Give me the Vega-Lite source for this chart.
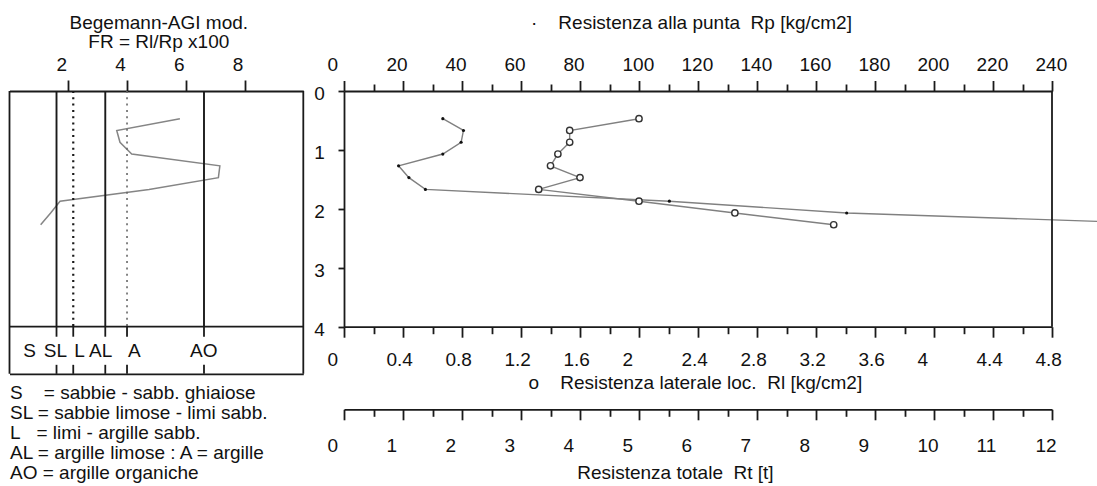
{
  "$schema": "https://vega.github.io/schema/vega-lite/v6.json",
  "background": "white",
  "width": 1097,
  "height": 486,
  "autosize": {"type": "none"},
  "padding": 0,
  "config": {
    "font": "Liberation Sans",
    "view": {"stroke": null},
    "axis": {
      "labelFont": "Liberation Sans", "labelFontSize": 19, "labelColor": "#111",
      "titleFont": "Liberation Sans", "titleFontSize": 19, "titleFontWeight": "normal", "titleColor": "#111",
      "domainColor": "#1a1a1a", "domainWidth": 1.8, "tickColor": "#1a1a1a", "tickWidth": 1.8,
      "grid": false, "labelOverlap": false, "labelBound": false, "labelFlush": false
    }
  },
  "datasets": {
    "rp": [
      {"depth": 0.47, "rp": 33.5}, {"depth": 0.67, "rp": 40.5}, {"depth": 0.87, "rp": 39.7},
      {"depth": 1.07, "rp": 33.5}, {"depth": 1.27, "rp": 18.5}, {"depth": 1.47, "rp": 22},
      {"depth": 1.67, "rp": 27.6}, {"depth": 1.87, "rp": 110.3}, {"depth": 2.07, "rp": 170.4},
      {"depth": 2.27, "rp": 290}
    ],
    "rl": [
      {"depth": 0.47, "rl": 2.0}, {"depth": 0.67, "rl": 1.53}, {"depth": 0.87, "rl": 1.53},
      {"depth": 1.07, "rl": 1.45}, {"depth": 1.27, "rl": 1.4}, {"depth": 1.47, "rl": 1.6},
      {"depth": 1.67, "rl": 1.32}, {"depth": 1.87, "rl": 2.0}, {"depth": 2.07, "rl": 2.65},
      {"depth": 2.27, "rl": 3.32}
    ],
    "fr": [
      {"depth": 0.47, "fr": 5.8}, {"depth": 0.67, "fr": 3.65}, {"depth": 0.87, "fr": 3.76},
      {"depth": 1.07, "fr": 4.16}, {"depth": 1.27, "fr": 7.16}, {"depth": 1.47, "fr": 7.11},
      {"depth": 1.67, "fr": 4.75}, {"depth": 1.87, "fr": 1.72}, {"depth": 2.07, "fr": 1.4},
      {"depth": 2.27, "fr": 1.06}
    ],
    "bounds": [
      {"b": 1.6, "kind": "main"}, {"b": 2.17, "kind": "sub"}, {"b": 3.26, "kind": "main"},
      {"b": 4.0, "kind": "sub"}, {"b": 6.62, "kind": "main"}
    ],
    "classes": [
      {"cls": "S", "pos": 0.68}, {"cls": "SL", "pos": 1.56}, {"cls": "L", "pos": 2.38},
      {"cls": "AL", "pos": 3.1}, {"cls": "A", "pos": 4.25}, {"cls": "AO", "pos": 6.61}
    ],
    "one": [{}]
  },
  "layer": [
    {
      "data": {"name": "fr"},
      "mark": {"type": "line", "color": "#858585", "strokeWidth": 1.5},
      "encoding": {
        "x": {"field": "fr", "type": "quantitative",
          "scale": {"domain": [0, 10], "range": [9.5, 303.3], "nice": false, "zero": false},
          "axis": {"orient": "top", "offset": -91, "values": [2, 4, 6, 8], "tickSize": 11,
            "labelAlign": "center", "labelOffset": -7, "labelBaseline": "alphabetic", "labelPadding": 10,
            "title": ["Begemann-AGI mod.", "FR = Rl/Rp x100\u00a0\u00a0\u00a0\u00a0"],
            "titleX": 158.3, "titleY": -62.7, "titleAlign": "center", "titleBaseline": "alphabetic",
            "titleLineHeight": 19.4}},
        "y": {"field": "depth", "type": "quantitative",
          "scale": {"domain": [0, 4], "range": [91, 326.7], "nice": false, "zero": false}, "axis": null},
        "order": {"field": "depth"}
      }
    },
    {
      "data": {"name": "bounds"},
      "transform": [{"filter": "datum.kind == 'main'"}],
      "mark": {"type": "rule", "color": "#1a1a1a", "strokeWidth": 1.9},
      "encoding": {
        "x": {"field": "b", "type": "quantitative", "scale": {"domain": [0, 10], "range": [9.5, 303.3], "nice": false, "zero": false}, "axis": null},
        "y": {"datum": 0, "type": "quantitative", "scale": {"domain": [0, 4], "range": [91, 326.7], "nice": false, "zero": false}, "axis": null},
        "y2": {"datum": 4}
      }
    },
    {
      "data": {"name": "bounds"},
      "transform": [{"filter": "datum.kind == 'sub' && datum.b < 3"}],
      "mark": {"type": "rule", "color": "#1a1a1a", "strokeWidth": 2.2, "strokeDash": [2, 4.3], "strokeCap": "butt"},
      "encoding": {
        "x": {"field": "b", "type": "quantitative", "scale": {"domain": [0, 10], "range": [9.5, 303.3], "nice": false, "zero": false}, "axis": null},
        "y": {"datum": 0, "type": "quantitative", "scale": {"domain": [0, 4], "range": [91, 326.7], "nice": false, "zero": false}, "axis": null},
        "y2": {"datum": 4}
      }
    },
    {
      "data": {"name": "bounds"},
      "transform": [{"filter": "datum.kind == 'sub' && datum.b > 3"}],
      "mark": {"type": "rule", "color": "#666", "strokeWidth": 1.6, "strokeDash": [2, 4.3], "strokeCap": "butt"},
      "encoding": {
        "x": {"field": "b", "type": "quantitative", "scale": {"domain": [0, 10], "range": [9.5, 303.3], "nice": false, "zero": false}, "axis": null},
        "y": {"datum": 0, "type": "quantitative", "scale": {"domain": [0, 4], "range": [91, 326.7], "nice": false, "zero": false}, "axis": null},
        "y2": {"datum": 4}
      }
    },
    {
      "data": {"name": "bounds"},
      "mark": {"type": "rule", "color": "#1a1a1a", "strokeWidth": 1.8},
      "encoding": {
        "x": {"field": "b", "type": "quantitative", "scale": {"domain": [0, 10], "range": [9.5, 303.3], "nice": false, "zero": false}, "axis": null},
        "y": {"datum": 4, "type": "quantitative", "scale": {"domain": [0, 4], "range": [91, 326.7], "nice": false, "zero": false}, "axis": null},
        "y2": {"datum": 4.17}
      }
    },
    {
      "data": {"name": "bounds"},
      "mark": {"type": "rule", "color": "#1a1a1a", "strokeWidth": 1.8},
      "encoding": {
        "x": {"field": "b", "type": "quantitative", "scale": {"domain": [0, 10], "range": [9.5, 303.3], "nice": false, "zero": false}, "axis": null},
        "y": {"datum": 4.647, "type": "quantitative", "scale": {"domain": [0, 4], "range": [91, 326.7], "nice": false, "zero": false}, "axis": null},
        "y2": {"datum": 4.8}
      }
    },
    {
      "data": {"name": "one"},
      "mark": {"type": "rule", "color": "#1a1a1a", "strokeWidth": 1.8},
      "encoding": {
        "x": {"datum": 0, "type": "quantitative", "scale": {"domain": [0, 10], "range": [9.5, 303.3], "nice": false, "zero": false}, "axis": null},
        "x2": {"datum": 10},
        "y": {"datum": 4, "type": "quantitative", "scale": {"domain": [0, 4], "range": [91, 326.7], "nice": false, "zero": false}, "axis": null}
      }
    },
    {
      "data": {"name": "one"},
      "mark": {"type": "rule", "color": "#1a1a1a", "strokeWidth": 1.8},
      "encoding": {
        "x": {"datum": 0, "type": "quantitative", "scale": {"domain": [0, 10], "range": [9.5, 303.3], "nice": false, "zero": false}, "axis": null},
        "y": {"datum": 0, "type": "quantitative", "scale": {"domain": [0, 4], "range": [91, 326.7], "nice": false, "zero": false}, "axis": null},
        "y2": {"datum": 4.8}
      }
    },
    {
      "data": {"name": "one"},
      "mark": {"type": "rule", "color": "#1a1a1a", "strokeWidth": 1.8},
      "encoding": {
        "x": {"datum": 10, "type": "quantitative", "scale": {"domain": [0, 10], "range": [9.5, 303.3], "nice": false, "zero": false}, "axis": null},
        "y": {"datum": 0, "type": "quantitative", "scale": {"domain": [0, 4], "range": [91, 326.7], "nice": false, "zero": false}, "axis": null},
        "y2": {"datum": 4.8}
      }
    },
    {
      "data": {"name": "classes"},
      "mark": {"type": "text", "font": "Liberation Sans", "fontSize": 19, "color": "#111", "baseline": "alphabetic", "align": "center"},
      "encoding": {
        "x": {"field": "pos", "type": "quantitative",
          "scale": {"domain": [0, 10], "range": [9.5, 303.3], "nice": false, "zero": false},
          "axis": {"orient": "bottom", "offset": -112.2, "ticks": false, "labels": false, "domain": true,
            "title": ["S\u00a0\u00a0\u00a0 = sabbie - sabb. ghiaiose", "SL = sabbie limose - limi sabb.", "L\u00a0\u00a0 = limi - argille sabb.", "AL = argille limose : A = argille", "AO = argille organiche"],
            "titleAlign": "left", "titleX": 9.5, "titleY": 24.7, "titleBaseline": "alphabetic", "titleLineHeight": 20}},
        "y": {"datum": 4.51, "type": "quantitative", "scale": {"domain": [0, 4], "range": [91, 326.7], "nice": false, "zero": false}, "axis": null},
        "text": {"field": "cls"}
      }
    },
    {
      "data": {"name": "rp"},
      "mark": {"type": "line", "color": "#808080", "strokeWidth": 1.4,
        "point": {"filled": true, "color": "#111", "size": 10}},
      "encoding": {
        "x": {"field": "rp", "type": "quantitative",
          "scale": {"domain": [0, 240], "range": [344, 1052], "nice": false, "zero": false},
          "axis": {"orient": "top", "offset": -91, "values": [0, 20, 40, 60, 80, 100, 120, 140, 160, 180, 200, 220, 240],
            "tickSize": 10.5, "labelAlign": "left", "labelOffset": -17, "labelBaseline": "alphabetic", "labelPadding": 10,
            "title": "·\u00a0\u00a0\u00a0\u00a0Resistenza alla punta\u00a0 Rp [kg/cm2]",
            "titleAlign": "left", "titleX": 530.4, "titleY": -62.7, "titleBaseline": "alphabetic"}},
        "y": {"field": "depth", "type": "quantitative",
          "scale": {"domain": [0, 4], "range": [91, 326.7], "nice": false, "zero": false},
          "axis": {"orient": "left", "offset": -344, "values": [0, 1, 2, 3, 4], "tickSize": 6, "labelPadding": 13.7, "labelAlign": "right",
            "labelBaseline": "alphabetic", "labelOffset": 8.5, "title": null}},
        "order": {"field": "depth"}
      }
    },
    {
      "data": {"name": "one"},
      "mark": {"type": "rule", "color": "#1a1a1a", "strokeWidth": 1.8},
      "encoding": {
        "x": {"datum": 240, "type": "quantitative",
          "scale": {"domain": [0, 240], "range": [344, 1052], "nice": false, "zero": false},
          "axis": {"orient": "top", "offset": -91, "values": [10, 30, 50, 70, 90, 110, 130, 150, 170, 190, 210, 230],
            "tickSize": 7, "labels": false, "domain": false, "title": null}},
        "y": {"datum": 0, "type": "quantitative", "scale": {"domain": [0, 4], "range": [91, 326.7], "nice": false, "zero": false}, "axis": null},
        "y2": {"datum": 4}
      }
    },
    {
      "data": {"name": "rl"},
      "mark": {"type": "line", "color": "#808080", "strokeWidth": 1.4,
        "point": {"filled": true, "fill": "white", "stroke": "#333", "strokeWidth": 1.4, "size": 40}},
      "encoding": {
        "x": {"field": "rl", "type": "quantitative",
          "scale": {"domain": [0, 4.8], "range": [344, 1052], "nice": false, "zero": false},
          "axis": {"orient": "bottom", "offset": -159.3, "values": [0, 0.4, 0.8, 1.2, 1.6, 2, 2.4, 2.8, 3.2, 3.6, 4, 4.4, 4.8],
            "format": "~g", "tickSize": 10.5, "labelAlign": "left", "labelOffset": -17, "labelBaseline": "alphabetic", "labelPadding": 28,
            "title": "o\u00a0\u00a0\u00a0 Resistenza laterale loc.\u00a0 Rl [kg/cm2]",
            "titleAlign": "left", "titleX": 528, "titleY": 61.6, "titleBaseline": "alphabetic"}},
        "y": {"field": "depth", "type": "quantitative",
          "scale": {"domain": [0, 4], "range": [91, 326.7], "nice": false, "zero": false}, "axis": null},
        "order": {"field": "depth"}
      }
    },
    {
      "data": {"name": "one"},
      "mark": {"type": "rule", "opacity": 0},
      "encoding": {
        "x": {"datum": 0, "type": "quantitative",
          "scale": {"domain": [0, 4.8], "range": [344, 1052], "nice": false, "zero": false},
          "axis": {"orient": "bottom", "offset": -159.3, "values": [0.2, 0.6, 1.0, 1.4, 1.8, 2.2, 2.6, 3.0, 3.4, 3.8, 4.2, 4.6],
            "tickSize": 7, "labels": false, "domain": false, "title": null}},
        "y": {"datum": 0, "type": "quantitative", "scale": {"domain": [0, 4], "range": [91, 326.7], "nice": false, "zero": false}, "axis": null},
        "y2": {"datum": 4}
      }
    },
    {
      "data": {"name": "one"},
      "mark": {"type": "rule", "opacity": 0},
      "encoding": {
        "x": {"datum": 0, "type": "quantitative",
          "scale": {"domain": [0, 12], "range": [344, 1052], "nice": false, "zero": false},
          "axis": {"orient": "bottom", "offset": -76.7, "values": [0, 1, 2, 3, 4, 5, 6, 7, 8, 9, 10, 11, 12],
            "format": "d", "tickSize": 10.5, "labelAlign": "left", "labelOffset": -17, "labelBaseline": "alphabetic", "labelPadding": 32,
            "title": "Resistenza totale\u00a0 Rt [t]",
            "titleAlign": "left", "titleX": 576.7, "titleY": 68.8, "titleBaseline": "alphabetic"}},
        "y": {"datum": 0, "type": "quantitative", "scale": {"domain": [0, 4], "range": [91, 326.7], "nice": false, "zero": false}, "axis": null},
        "y2": {"datum": 4}
      }
    },
    {
      "data": {"name": "one"},
      "mark": {"type": "rule", "opacity": 0},
      "encoding": {
        "x": {"datum": 0, "type": "quantitative",
          "scale": {"domain": [0, 12], "range": [344, 1052], "nice": false, "zero": false},
          "axis": {"orient": "bottom", "offset": -76.7, "values": [0.5, 1.5, 2.5, 3.5, 4.5, 5.5, 6.5, 7.5, 8.5, 9.5, 10.5, 11.5],
            "tickSize": 7, "labels": false, "domain": false, "title": null}},
        "y": {"datum": 0, "type": "quantitative", "scale": {"domain": [0, 4], "range": [91, 326.7], "nice": false, "zero": false}, "axis": null},
        "y2": {"datum": 4}
      }
    }
  ],
  "resolve": {"scale": {"x": "independent", "y": "independent"}, "axis": {"x": "independent", "y": "independent"}}
}
